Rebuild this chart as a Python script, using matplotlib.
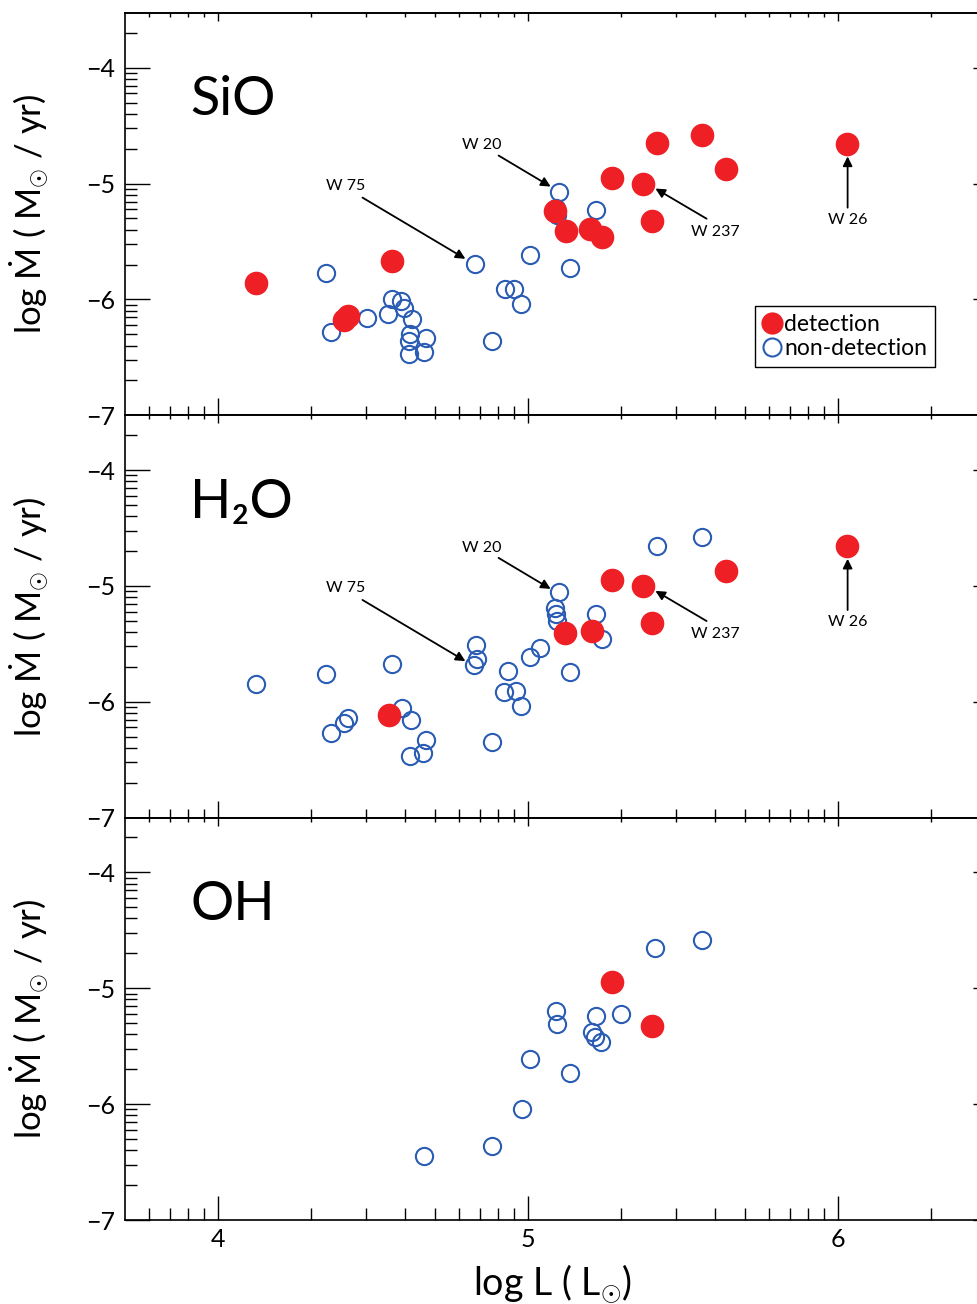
import numpy as np
import matplotlib
matplotlib.use("Agg")
import matplotlib.pyplot as plt
from matplotlib.lines import Line2D
from matplotlib.ticker import FuncFormatter, NullFormatter

plt.rcParams['font.family'] = ['Lato', 'DejaVu Sans']
plt.rcParams['mathtext.fontset'] = 'custom'
plt.rcParams['mathtext.rm'] = 'Lato'
plt.rcParams['mathtext.it'] = 'Lato'
plt.rcParams['axes.unicode_minus'] = True

RED = '#ee1f25'
BLUE = '#2a5cb4'

# --- SiO (log L, log Mdot) ---
sio_det_L = [4.122, 4.405, 4.42, 4.56, 5.086, 5.123, 5.20, 5.24, 5.27, 5.37, 5.40, 5.415, 5.56, 5.64, 6.03]
sio_det_M = [-5.857, -6.18, -6.14, -5.667, -5.24, -5.41, -5.39, -5.46, -4.95, -5.0, -5.32, -4.65, -4.58, -4.87, -4.655]
sio_non_L = [4.347, 4.363, 4.48, 4.547, 4.56, 4.59, 4.60, 4.627, 4.62, 4.617, 4.67, 4.617, 4.665,
             4.83, 4.885, 4.927, 4.956, 4.979, 5.008, 5.137, 5.10, 5.089, 5.092, 5.22]
sio_non_M = [-5.77, -6.28, -6.16, -6.125, -6.0, -6.01, -6.07, -6.17, -6.30, -6.36, -6.33, -6.47, -6.45,
             -5.69, -6.36, -5.91, -5.91, -6.04, -5.62, -5.73, -5.07, -5.21, -5.27, -5.23]

# --- H2O ---
h2o_det_L = [4.55, 5.12, 5.205, 5.27, 5.37, 5.40, 5.64, 6.03]
h2o_det_M = [-6.11, -5.41, -5.39, -4.95, -5.0, -5.32, -4.87, -4.655]
h2o_non_L = [4.121, 4.347, 4.56, 4.366, 4.405, 4.418, 4.595, 4.624, 4.67, 4.66, 4.62, 4.885,
             4.831, 4.837, 4.825, 4.934, 4.921, 4.96, 4.979, 5.008, 5.04, 5.10, 5.087, 5.09,
             5.093, 5.22, 5.24, 5.137, 5.415, 5.56]
h2o_non_M = [-5.85, -5.76, -5.67, -6.27, -6.18, -6.14, -6.05, -6.16, -6.33, -6.44, -6.47, -6.35,
             -5.51, -5.63, -5.685, -5.735, -5.915, -5.91, -6.037, -5.614, -5.536, -5.05, -5.19, -5.24,
             -5.30, -5.24, -5.46, -5.74, -4.655, -4.58]

# --- OH ---
oh_det_L = [5.27, 5.40]
oh_det_M = [-4.95, -5.33]
oh_non_L = [4.664, 4.885, 4.98, 5.008, 5.137, 5.089, 5.095, 5.22, 5.30, 5.205, 5.217, 5.237, 5.41, 5.56]
oh_non_M = [-6.45, -6.36, -6.04, -5.61, -5.73, -5.20, -5.31, -5.24, -5.22, -5.38, -5.42, -5.46, -4.65, -4.58]

panels = [
    ("SiO", sio_det_L, sio_det_M, sio_non_L, sio_non_M),
    ("H\u2082O", h2o_det_L, h2o_det_M, h2o_non_L, h2o_non_M),
    ("OH", oh_det_L, oh_det_M, oh_non_L, oh_non_M),
]

# star labels: text position, arrow start, arrow tip (log L, log Mdot)
notes = [
    ("W 75", (4.411, -5.017), (4.466, -5.121), (4.798, -5.649)),
    ("W 20", (4.850, -4.671), (4.905, -4.758), (5.073, -5.026)),
    ("W 237", (5.605, -5.416), (5.576, -5.303), (5.411, -5.043)),
    ("W 26", (6.031, -5.312), (6.031, -5.208), (6.031, -4.766)),
]

W, H = 977, 1304
left_px, right_px = 125, 980.6
top_px, bot_px = 13, 1220
ph = (bot_px - top_px) / 3

fig = plt.figure(figsize=(9.77, 13.04), dpi=100)

log_fmt = FuncFormatter(lambda v, p: f"{np.log10(v):.0f}".replace('-', '\u2212'))

for i, (name, det_L, det_M, non_L, non_M) in enumerate(panels):
    top = top_px + i * ph
    ax = fig.add_axes([left_px / W, 1 - (top + ph) / H, (right_px - left_px) / W, ph / H])

    ax.plot(10 ** np.array(non_L), 10 ** np.array(non_M), 'o', ls='none', ms=12.4,
            mfc='none', mec=BLUE, mew=1.5, zorder=3)
    ax.plot(10 ** np.array(det_L), 10 ** np.array(det_M), 'o', ls='none', ms=17,
            mfc=RED, mec='none', zorder=4)

    ax.set_xscale('log')
    ax.set_yscale('log')
    ax.set_xlim(10 ** 3.7, 10 ** 6.46)
    ax.set_ylim(1e-7, 10 ** -3.528)

    ax.xaxis.set_major_formatter(log_fmt)
    ax.yaxis.set_major_formatter(log_fmt)
    ax.xaxis.set_minor_formatter(NullFormatter())
    ax.yaxis.set_minor_formatter(NullFormatter())

    xmaj, xmin = (17, 8.5) if i == 2 else (12, 6.5)
    ax.tick_params(axis='x', which='major', direction='in', length=xmaj, width=1.0,
                   top=False, labelsize=18, pad=6, labelbottom=(i == 2))
    ax.tick_params(axis='x', which='minor', direction='in', length=xmin, width=1.0, top=False)
    ax.tick_params(axis='y', which='major', direction='in', length=18, width=1.0,
                   right=False, labelsize=18, pad=7)
    ax.tick_params(axis='y', which='minor', direction='in', length=8.6, width=1.0, right=False)
    for sp in ax.spines.values():
        sp.set_linewidth(1.2)

    secx = ax.secondary_xaxis('top')
    secx.tick_params(which='major', direction='in', length=6, width=1.0, labeltop=False)
    secx.tick_params(which='minor', direction='in', length=3, width=1.0, labeltop=False)
    secx.spines['top'].set_linewidth(1.2)
    secy = ax.secondary_yaxis('right')
    secy.tick_params(which='major', direction='in', length=6, width=1.0, labelright=False)
    secy.tick_params(which='minor', direction='in', length=3, width=1.0, labelright=False)
    secy.spines['right'].set_linewidth(1.2)

    ax.set_ylabel("log Ṁ ( M$_{\\odot}$ / yr)", fontsize=25, va='center')
    ax.yaxis.set_label_coords(-0.112, 0.5)

    ax.text(0.076, 0.746, name, transform=ax.transAxes, fontsize=39, va='baseline')

    if i < 2:
        for label, txt, start, tip in notes:
            ax.annotate('', xy=(10 ** tip[0], 10 ** tip[1]), xytext=(10 ** start[0], 10 ** start[1]),
                        arrowprops=dict(arrowstyle='-|>', color='black', lw=1.3,
                                        mutation_scale=14, shrinkA=0, shrinkB=0), zorder=5)
            ax.text(10 ** txt[0], 10 ** txt[1], label, ha='center', va='center', fontsize=11.5)

    if i == 0:
        h1 = Line2D([], [], marker='o', ls='none', ms=16, mfc=RED, mec='none')
        h2 = Line2D([], [], marker='o', ls='none', ms=13, mfc='none', mec=BLUE, mew=1.5)
        leg = ax.legend([h1, h2], ['detection', 'non-detection'], loc='upper left',
                        bbox_to_anchor=(0.7363, 0.2717), borderaxespad=0, fancybox=False,
                        edgecolor='black', framealpha=1, fontsize=16.5, handlelength=0.8,
                        handletextpad=0.12, borderpad=0.35, labelspacing=0.15)
        leg.get_frame().set_linewidth(1.0)

    if i == 2:
        ax.set_xlabel("log L ( L$_{\\odot}$)", fontsize=27, va='center')
        ax.xaxis.set_label_coords(0.5, -0.157)

fig.savefig("out.png", dpi=100)
